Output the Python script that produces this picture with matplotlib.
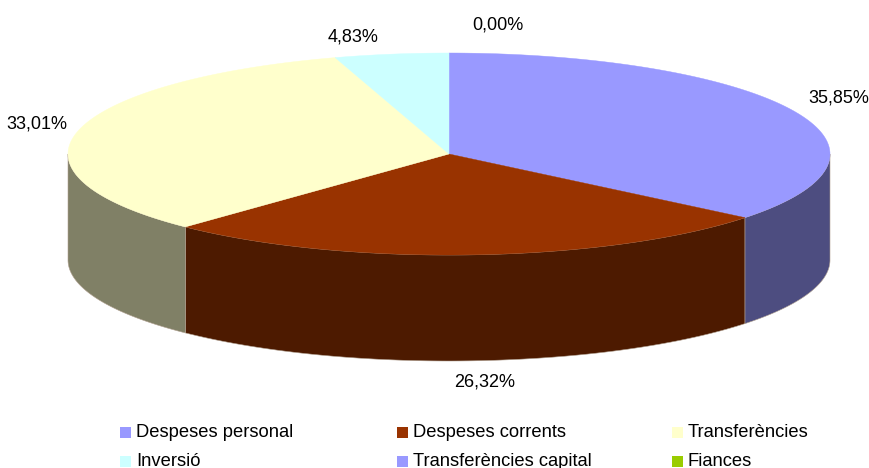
import numpy as np
import matplotlib
matplotlib.use("Agg")
import matplotlib.pyplot as plt
from matplotlib.patches import Polygon, Rectangle

# dades
categories = ['Despeses personal', 'Despeses corrents', 'Transferències',
              'Inversió', 'Transferències capital', 'Fiances']
valors = [35.85, 26.32, 33.01, 4.83, 0.00, 0.00]
mostra_etiqueta = [True, True, True, True, True, False]
colors = ['#9999FF', '#993300', '#FFFFCC', '#CCFFFF', '#9999FF', '#99CC00']

# geometria del pastis (pixels)
cx, cy, rx, ry, fons = 449, 154, 381, 101, 106
# petits desplaçaments de les etiquetes (com fa Excel)
nudges = [(-6, -6), (8, 6), (14, -3), (-30, -2), (49, -13), (0, 0)]

plt.rcParams['font.family'] = ['Liberation Sans', 'DejaVu Sans']

fig = plt.figure(figsize=(8.7, 4.68), dpi=100)
ax = fig.add_axes([0, 0, 1, 1])
ax.set_xlim(0, 870)
ax.set_ylim(468, 0)
ax.axis('off')


def fosc(c):
    r, g, b = matplotlib.colors.to_rgb(c)
    return (r * 0.5, g * 0.5, b * 0.5)


total = sum(valors)
angles = np.cumsum([0] + [v / total * 2 * np.pi for v in valors])
# angle parametric: comença a dalt i va en sentit horari
t0 = angles[:-1] - np.pi / 2
t1 = angles[1:] - np.pi / 2

# parets laterals (només la part frontal, t entre 0 i pi)
for a, b, c in zip(t0, t1, colors):
    for off in (0, 2 * np.pi, -2 * np.pi):
        lo = max(a + off, 0)
        hi = min(b + off, np.pi)
        if hi - lo <= 1e-6:
            continue
        t = np.linspace(lo, hi, 200)
        xs = cx + rx * np.cos(t)
        ys = cy + ry * np.sin(t)
        pts = np.column_stack([np.r_[xs, xs[::-1]], np.r_[ys, ys[::-1] + fons]])
        ax.add_patch(Polygon(pts, closed=True, facecolor=fosc(c),
                             edgecolor='#B0A090', linewidth=0.4))

# tapa superior
for a, b, c in zip(t0, t1, colors):
    if b - a <= 1e-6:
        continue
    t = np.linspace(a, b, 300)
    xs = np.r_[cx, cx + rx * np.cos(t)]
    ys = np.r_[cy, cy + ry * np.sin(t)]
    ax.add_patch(Polygon(np.column_stack([xs, ys]), closed=True,
                         facecolor=c, edgecolor=c, linewidth=0.3))

# etiquetes de percentatge
for v, a, b, mostra, (dx, dy) in zip(valors, t0, t1, mostra_etiqueta, nudges):
    if not mostra:
        continue
    tm = (a + b) / 2
    x = cx + 1.15 * rx * np.cos(tm) + dx
    y = cy + 1.15 * ry * np.sin(tm) + dy
    if np.sin(tm) > 0.3:
        y += fons
    txt = f"{v:.2f}%".replace('.', ',')
    ax.text(x, y, txt, ha='center', va='center', fontsize=13, color='black')

# llegenda
col_x = [120, 397, 672]
fila_y = [432.5, 461]
for i, (nom, c) in enumerate(zip(categories, colors)):
    x = col_x[i % 3]
    y = fila_y[i // 3]
    ax.add_patch(Rectangle((x, y - 5.5), 11, 11, facecolor=c, edgecolor='none'))
    ax.text(x + 16, y, nom, ha='left', va='center', fontsize=13.2, color='black')

fig.savefig('out.png', dpi=100)
